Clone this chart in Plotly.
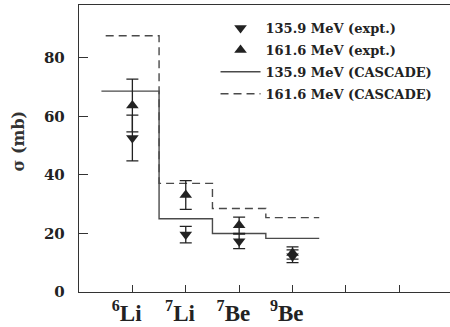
import plotly.graph_objects as go

# ---- data ----
categories = ["<sup>6</sup>Li\u00a0\u00a0", "<sup>7</sup>Li\u00a0\u00a0",
              "<sup>7</sup>Be\u00a0\u00a0", "<sup>9</sup>Be\u00a0\u00a0", "", ""]
cat_pos = [1, 2, 3, 4]

expt_1359 = [52.6, 19.6, 17.3, 12.2]
err_1359 = [7.8, 2.8, 2.5, 2.2]
expt_1616 = [63.7, 33.1, 22.8, 13.3]
err_1616 = [9.0, 4.9, 2.8, 2.1]

step_edges = [0.42, 1.5, 2.5, 3.5, 4.5]
step_edges_dash = [0.5, 1.5, 2.5, 3.5, 4.5]
casc_1359 = [68.6, 25.0, 20.0, 18.3]
casc_1616 = [87.5, 37.1, 28.5, 25.4]

y_ticks = [0, 20, 40, 60, 80]
y_title = "σ (mb)"


def step_xy(edges, vals):
    xs, ys = [], []
    for i, v in enumerate(vals):
        xs += [edges[i], edges[i + 1]]
        ys += [v, v]
    return xs, ys


INK = "#222222"
LINE = "#4a4a4a"
FONT = "DejaVu Serif"

fig = go.Figure()

xs, ys = step_xy(step_edges, casc_1359)
fig.add_trace(go.Scatter(x=xs, y=ys, mode="lines", name="135.9 MeV (CASCADE)",
                         line=dict(color=LINE, width=1.4), legendrank=3, legendgroup="c"))
xs, ys = step_xy(step_edges_dash, casc_1616)
fig.add_trace(go.Scatter(x=xs, y=ys, mode="lines", name="161.6 MeV (CASCADE)",
                         line=dict(color=LINE, width=1.4, dash="8px,5px"), legendrank=4,
                         legendgroup="d"))

fig.add_trace(go.Scatter(x=cat_pos, y=expt_1616, mode="markers", name="161.6 MeV (expt.)",
                         marker=dict(symbol="triangle-up", size=11, color=INK),
                         error_y=dict(type="data", array=err_1616, visible=True,
                                      color=INK, thickness=1.3, width=6),
                         legendrank=2, legendgroup="b"))
fig.add_trace(go.Scatter(x=cat_pos, y=expt_1359, mode="markers", name="135.9 MeV (expt.)",
                         marker=dict(symbol="triangle-down", size=11, color=INK),
                         error_y=dict(type="data", array=err_1359, visible=True,
                                      color=INK, thickness=1.3, width=6),
                         legendrank=1, legendgroup="a"))

fig.update_layout(
    width=450, height=327,
    margin=dict(l=79, r=0, t=5, b=35, autoexpand=False),
    paper_bgcolor="white", plot_bgcolor="white",
    showlegend=True,
    legend=dict(x=0.368, y=0.972, xanchor="left", yanchor="top",
                bgcolor="rgba(0,0,0,0)", borderwidth=0, itemwidth=40,
                font=dict(family=FONT, size=13, color=INK, weight="bold"),
                traceorder="grouped", tracegroupgap=2),
    annotations=[dict(text=y_title, xref="paper", yref="paper", x=-0.164, y=0.525,
                      xanchor="center", yanchor="middle", textangle=-90, showarrow=False,
                      font=dict(family=FONT, size=16, color="#333", weight="bold"))],
)

fig.update_xaxes(
    range=[0, 6.95], tickmode="array", tickvals=[1, 2, 3, 4, 5, 6], ticktext=categories,
    ticks="inside", ticklen=7, tickcolor="#333", tickwidth=1.3,
    showline=True, linecolor="#333", linewidth=1.4, mirror=True,
    showgrid=False, zeroline=False, automargin=False,
    tickfont=dict(family="Liberation Serif", size=23, color=INK, weight="bold"),
    ticklabelstandoff=0,
)
fig.update_yaxes(
    range=[0, 98], tickmode="array", tickvals=y_ticks,
    ticks="inside", ticklen=9, tickcolor="#333", tickwidth=1.3,
    showline=True, linecolor="#333", linewidth=1.4, mirror=True,
    showgrid=False, zeroline=False, automargin=False,
    tickfont=dict(family=FONT, size=15, color=INK, weight="bold"),
    ticklabelstandoff=10,
)

fig.write_html("out.html", config={"displayModeBar": False},
               post_script="document.body.style.margin='0';")
